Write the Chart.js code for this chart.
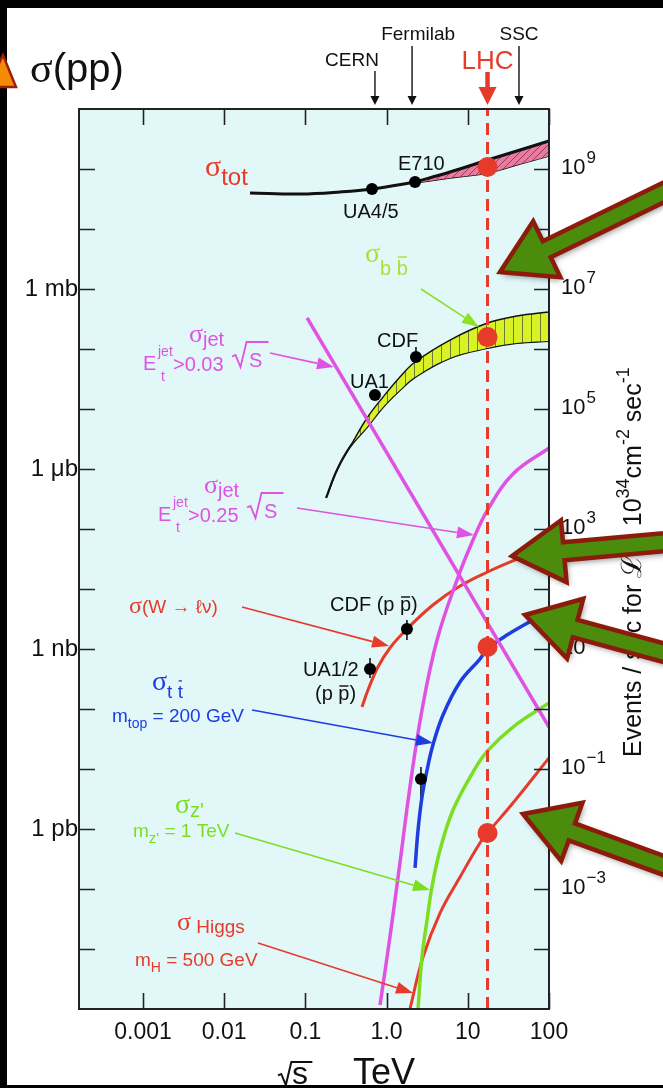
<!DOCTYPE html>
<html>
<head>
<meta charset="utf-8">
<script src="https://cdn.jsdelivr.net/npm/chart.js@4.4.1/dist/chart.umd.min.js"></script>
<style>
  html, body { margin: 0; padding: 0; background: #fff; }
  #wrap { position: relative; width: 663px; height: 1088px; }
</style>
</head>
<body>
<div id="wrap"><canvas id="c" width="663" height="1088"></canvas></div>
<script>
// sqrt(s) in TeV, rates in events / sec at L = 1e34 cm^-2 s^-1 (1 mb -> 1e7)
const totX = [0.0208, 0.0857, 0.267, 0.661, 2.24];
const totY = [3.98e8, 3.83e8, 4.14e8, 4.64e8, 6.07e8];
const totBandX = [2.24, 6.04, 17.5, 44.0, 100];
const totBandHi = [6.07e8, 8.91e8, 1.41e9, 2.07e9, 2.93e9];
const totBandLo = [5.84e8, 7.08e8, 8.58e8, 1.21e9, 1.65e9];

const bbX = [0.180, 0.245, 0.354, 0.574, 0.904, 1.46, 2.24, 6.04, 17.5, 40.4, 100];
const bbHi = [3.29e3, 9.62e3, 2.33e4, 7.08e4, 1.58e5, 3.42e5, 6.07e5, 1.41e6, 2.71e6, 3.55e6, 4.14e6];
const bbLo = [3.29e3, 9.62e3, 2.33e4, 5.01e4, 1.08e5, 2.07e5, 3.42e5, 7.08e5, 1.04e6, 1.26e6, 1.36e6];

const jet03X = [0.105, 100];
const jet03Y = [3.29e6, 0.50];

const jet25X = [0.830, 1.10, 1.46, 1.94, 2.73, 4.18, 7.36, 11.6, 17.5, 36.0, 100];
const jet25Y = [1.17e-5, 1.58e-4, 2.71e-3, 5.01e-2, 0.962, 14.1, 141, 656, 2.07e3, 8.26e3, 2.24e4];

const wX = [0.498, 0.590, 0.783, 1.10, 1.78, 3.72, 8.02, 17.5, 44.0, 100];
const wY = [1.08, 2.07, 5.01, 10.4, 21.5, 54.1, 112, 192, 329, 501];

const ttX = [2.24, 2.44, 2.73, 3.15, 3.72, 4.95, 8.02, 14.1, 17.5, 30.4, 63.5, 100];
const ttY = [2.24e-3, 9.62e-3, 3.42e-2, 9.62e-2, 0.251, 0.794, 2.82, 6.81, 10.0, 17.1, 30.4, 41.4];

const zX = [2.44, 2.73, 3.15, 3.62, 4.55, 6.58, 11.6, 17.5, 36.0, 100];
const zY = [1e-5, 7.36e-5, 3.04e-4, 1.08e-3, 4.47e-3, 2.07e-2, 8.91e-2, 0.200, 0.501, 1.26];

const higgsX = [1.94, 2.81, 4.55, 8.02, 14.1, 17.5, 36.0, 100];
const higgsY = [1e-5, 7.36e-5, 3.98e-4, 1.58e-3, 5.84e-3, 8.58e-3, 2.71e-2, 0.153];

// measured points: UA4/5, E710, UA1, CDF (bb), CDF (W), UA1/2 (W), top
const measX = [0.661, 2.24, 0.719, 2.30, 1.78, 0.625, 2.65];
const measY = [4.64e8, 6.07e8, 1.71e5, 7.36e5, 21.5, 4.64, 6.81e-2];
const measLo = [null, null, null, 7.36e5, 14.1, 3.29, 2.51e-2];
const measHi = [null, null, null, 1.08e6, 30.4, 7.08, 0.108];

// LHC energy and the rates marked on it
const lhcE = 17.5;
const lhcRates = [1.08e9, 1.58e6, 10.8, 8.58e-3];

const colliders = ['CERN', 'Fermilab', 'LHC', 'SSC'];
const colliderE = [0.719, 2.06, 17.5, 42.7];

const xTickVals = [0.001, 0.01, 0.1, 1, 10, 100];
const xTickLabels = ['0.001', '0.01', '0.1', '1.0', '10', '100'];
const sigmaTickVals = [1e7, 1e4, 10, 0.01];
const sigmaTickLabels = ['1 mb', '1 \u03bcb', '1 nb', '1 pb'];
const rateTickExps = [9, 7, 5, 3, 1, -1, -3];

const SANS = '"Liberation Sans", Arial, Helvetica, sans-serif';
const SERIF = '"Liberation Serif", "DejaVu Serif", serif';
const RED = '#e63b2b', MAGENTA = '#e052e2', BLUE = '#1d3de0', ZGREEN = '#7cde20';
const BBGREEN = '#8ee026', BBLABEL = '#a5e335', INK = '#111';

const canvas = document.getElementById('c');
const ctx0 = canvas.getContext('2d');

function pattern(w, h, bg, fg, draw) {
  const c = document.createElement('canvas');
  c.width = w; c.height = h;
  const g = c.getContext('2d');
  g.fillStyle = bg; g.fillRect(0, 0, w, h);
  g.strokeStyle = fg; g.lineWidth = 1;
  draw(g);
  return ctx0.createPattern(c, 'repeat');
}
const pinkHatch = pattern(7, 7, '#e87ba0', '#a03a5c', g => {
  g.beginPath(); g.moveTo(0, 7); g.lineTo(7, 0); g.stroke();
});
const yellowHatch = pattern(9, 4, '#d9f225', '#6f7a34', g => {
  g.beginPath(); g.moveTo(0.5, 0); g.lineTo(0.5, 4); g.stroke();
});

const pts = (xs, ys) => xs.map((x, i) => ({ x, y: ys[i] }));
const curve = (label, xs, ys, color, width, extra) => Object.assign({
  label, data: pts(xs, ys), showLine: true, borderColor: color, borderWidth: width,
  pointRadius: 0, tension: 0.4, fill: false, order: 3
}, extra || {});

// text with sub/superscripts; flags: s = serif, h = high overbar, l = low overbar
function rich(ctx, x, y, parts, color) {
  ctx.fillStyle = color; ctx.strokeStyle = color;
  ctx.textAlign = 'left'; ctx.textBaseline = 'alphabetic';
  let cx = x;
  for (const [t, size, dy = 0, flags = ''] of parts) {
    ctx.font = size + 'px ' + (flags.includes('s') ? SERIF : SANS);
    ctx.fillText(t, cx, y + dy);
    const w = ctx.measureText(t).width;
    if (flags.includes('h') || flags.includes('l')) {
      const by = y + dy - size * (flags.includes('h') ? 0.9 : 0.7);
      ctx.lineWidth = Math.max(1.2, size / 14);
      ctx.beginPath(); ctx.moveTo(cx + 1, by); ctx.lineTo(cx + w - 1, by); ctx.stroke();
    }
    cx += w;
  }
  return cx;
}

function radical(ctx, x, y, h, w, color, lw) {
  ctx.strokeStyle = color; ctx.lineWidth = lw; ctx.lineJoin = 'miter';
  ctx.beginPath();
  ctx.moveTo(x, y - h * 0.42);
  ctx.lineTo(x + h * 0.14, y - h * 0.48);
  ctx.lineTo(x + h * 0.34, y);
  ctx.lineTo(x + h * 0.58, y - h);
  ctx.lineTo(x + h * 0.58 + w, y - h);
  ctx.stroke();
}

function pointer(ctx, from, to, color) {
  const [x1, y1] = from, [x2, y2] = to;
  const a = Math.atan2(y2 - y1, x2 - x1);
  const hl = 17, hw = 6;
  const bx = x2 - hl * Math.cos(a), by = y2 - hl * Math.sin(a);
  ctx.strokeStyle = color; ctx.fillStyle = color; ctx.lineWidth = 1.6;
  ctx.beginPath(); ctx.moveTo(x1, y1); ctx.lineTo(bx, by); ctx.stroke();
  ctx.beginPath();
  ctx.moveTo(x2, y2);
  ctx.lineTo(bx - hw * Math.sin(a), by + hw * Math.cos(a));
  ctx.lineTo(bx + hw * Math.sin(a), by - hw * Math.cos(a));
  ctx.closePath(); ctx.fill();
}

function bigArrow(ctx, tip, tail) {
  const [tx, ty] = tip, [ex, ey] = tail;
  const ang = Math.atan2(ey - ty, ex - tx);
  const L = Math.hypot(ex - tx, ey - ty);
  const hl = 52, hw = 31, sw = 9;
  ctx.save();
  ctx.translate(tx, ty); ctx.rotate(ang);
  ctx.beginPath();
  ctx.moveTo(0, 0); ctx.lineTo(hl, -hw); ctx.lineTo(hl, -sw); ctx.lineTo(L, -sw);
  ctx.lineTo(L, sw); ctx.lineTo(hl, sw); ctx.lineTo(hl, hw); ctx.closePath();
  ctx.shadowColor = 'rgba(0,0,0,0.45)'; ctx.shadowBlur = 6; ctx.shadowOffsetX = 2; ctx.shadowOffsetY = 3;
  ctx.fillStyle = '#4b8c0c'; ctx.fill();
  ctx.shadowColor = 'transparent';
  ctx.lineJoin = 'miter'; ctx.lineWidth = 4.5; ctx.strokeStyle = '#8c1b0c'; ctx.stroke();
  ctx.restore();
}

// labels and pointer arrows in canvas pixels
const pointers = [
  { from: [421, 289], to: [479, 327], color: BBGREEN },
  { from: [270, 353], to: [334, 367], color: MAGENTA },
  { from: [297, 508], to: [474, 535], color: MAGENTA },
  { from: [242, 607], to: [389, 646], color: RED },
  { from: [252, 710], to: [433, 743], color: BLUE },
  { from: [235, 833], to: [430, 890], color: ZGREEN },
  { from: [258, 943], to: [413, 993], color: RED }
];
const notes = [
  { x: 205, y: 176, c: RED, p: [['\u03c3', 30, 0, 's'], ['tot', 24, 9]] },
  { x: 398, y: 170, c: INK, p: [['E710', 20]] },
  { x: 343, y: 218, c: INK, p: [['UA4/5', 20]] },
  { x: 365, y: 262, c: BBLABEL, p: [['\u03c3', 28, 0, 's'], ['b ', 20, 13], ['b', 20, 13, 'h']] },
  { x: 377, y: 347, c: INK, p: [['CDF', 20]] },
  { x: 350, y: 388, c: INK, p: [['UA1', 20]] },
  { x: 129, y: 613, c: RED, p: [['\u03c3', 24, 0, 's'], ['(W \u2192 \u2113\u03bd)', 19]] },
  { x: 330, y: 611, c: INK, p: [['CDF (p ', 20], ['p', 20, 0, 'l'], [')', 20]] },
  { x: 303, y: 676, c: INK, p: [['UA1/2', 20]] },
  { x: 315, y: 700, c: INK, p: [['(p ', 20], ['p', 20, 0, 'l'], [')', 20]] },
  { x: 152, y: 690, c: BLUE, p: [['\u03c3', 28, 0, 's'], ['t ', 19, 8], ['t', 19, 8, 'h']] },
  { x: 112, y: 722, c: BLUE, p: [['m', 19], ['top', 14, 6], [' = 200 GeV', 19]] },
  { x: 175, y: 813, c: ZGREEN, p: [['\u03c3', 28, 0, 's'], ["z'", 20, 4]] },
  { x: 133, y: 837, c: ZGREEN, p: [['m', 19], ["z'", 15, 6], [' = 1 TeV', 19]] },
  { x: 177, y: 930, c: RED, p: [['\u03c3', 26, 0, 's'], [' Higgs', 19, 3]] },
  { x: 135, y: 966, c: RED, p: [['m', 19], ['H', 14, 6], [' = 500 GeV', 19]] }
];
// jet threshold labels, second one sits 15 px right / 151 px lower
const jetLabels = [{ dx: 0, dy: 0, cut: '>0.03' }, { dx: 15, dy: 151, cut: '>0.25' }];

const deco = {
  id: 'deco',
  beforeDatasetsDraw(chart) {
    const { ctx, chartArea: a, scales: { x, y } } = chart;
    ctx.save();
    ctx.fillStyle = '#e2f8f8';
    ctx.fillRect(a.left, a.top, a.right - a.left, a.bottom - a.top);
    // error bars of the measured points
    ctx.strokeStyle = INK; ctx.lineWidth = 1.6;
    measX.forEach((mx, i) => {
      if (measLo[i] === null) return;
      const px = x.getPixelForValue(mx);
      ctx.beginPath();
      ctx.moveTo(px, y.getPixelForValue(measLo[i]));
      ctx.lineTo(px, y.getPixelForValue(measHi[i]));
      ctx.stroke();
    });
    ctx.restore();
  },
  afterDatasetsDraw(chart) {
    const { ctx, chartArea: a, scales: { x, y } } = chart;
    ctx.save();
    ctx.strokeStyle = '#222'; ctx.lineWidth = 1.6;
    ctx.beginPath();
    for (const v of xTickVals) {
      const px = Math.round(x.getPixelForValue(v)) + 0.5;
      ctx.moveTo(px, a.bottom); ctx.lineTo(px, a.bottom - 16);
      ctx.moveTo(px, a.top); ctx.lineTo(px, a.top + 16);
    }
    for (let e = -4; e <= 9; e++) {
      const py = Math.round(y.getPixelForValue(Math.pow(10, e))) + 0.5;
      ctx.moveTo(a.left, py); ctx.lineTo(a.left + 16, py);
      ctx.moveTo(a.right, py); ctx.lineTo(a.right - 15, py);
    }
    ctx.stroke();
    ctx.lineWidth = 2;
    ctx.strokeRect(a.left, a.top, a.right - a.left, a.bottom - a.top);
    ctx.restore();
  },
  afterDraw(chart) {
    const { ctx, chartArea: a, scales: { x, y } } = chart;
    ctx.save();

    // collider markers above the frame
    const cLayout = [
      { dx: -23, base: 66, y0: 71, size: 19, color: INK },
      { dx: 6, base: 40, y0: 46, size: 19, color: INK },
      { dx: 0, base: 69, y0: 72, size: 26, color: RED },
      { dx: 0, base: 40, y0: 46, size: 19, color: INK }
    ];
    colliders.forEach((name, i) => {
      const L = cLayout[i];
      const px = x.getPixelForValue(colliderE[i]);
      ctx.font = L.size + 'px ' + SANS;
      ctx.fillStyle = L.color; ctx.textAlign = 'center'; ctx.textBaseline = 'alphabetic';
      ctx.fillText(name, px + L.dx, L.base);
      ctx.strokeStyle = L.color; ctx.fillStyle = L.color;
      const big = name === 'LHC';
      const hh = big ? 18 : 9, hw = big ? 9 : 4.5;
      ctx.lineWidth = big ? 4.5 : 1.4;
      ctx.beginPath(); ctx.moveTo(px, L.y0); ctx.lineTo(px, a.top - 4 - hh + 2); ctx.stroke();
      ctx.beginPath();
      ctx.moveTo(px, a.top - 4); ctx.lineTo(px - hw, a.top - 4 - hh); ctx.lineTo(px + hw, a.top - 4 - hh);
      ctx.closePath(); ctx.fill();
    });

    // curve labels
    for (const p of pointers) pointer(ctx, p.from, p.to, p.color);
    for (const n of notes) rich(ctx, n.x, n.y, n.p, n.c);
    for (const j of jetLabels) {
      const ox = j.dx, oy = j.dy;
      rich(ctx, 189 + ox, 342 + oy, [['\u03c3', 26, 0, 's'], ['jet', 20, 4]], MAGENTA);
      rich(ctx, 143 + ox, 370 + oy, [['E', 20]], MAGENTA);
      rich(ctx, 158 + ox, 356 + oy, [['jet', 14]], MAGENTA);
      rich(ctx, 161 + ox, 381 + oy, [['t', 14]], MAGENTA);
      rich(ctx, 173 + ox, 371 + oy, [[j.cut, 20]], MAGENTA);
      radical(ctx, 232 + ox, 367 + oy, 25, 22, MAGENTA, 1.8);
      rich(ctx, 249 + ox, 367 + oy, [['S', 20]], MAGENTA);
    }

    // right axis: events / sec
    rateTickExps.forEach(e => {
      const py = y.getPixelForValue(Math.pow(10, e));
      const end = rich(ctx, 561, py + 5, [['10', 22]], INK);
      rich(ctx, end + 1, py - 6, [[String(e).replace('-', '\u2212'), 17]], INK);
    });
    ctx.save();
    ctx.translate(641, 757);
    ctx.rotate(-Math.PI / 2);
    rich(ctx, 0, 0, [['Events / sec for ', 25], ['\u2112', 28, 0, 's'], [' = 10', 25], ['34', 18, -12],
      ['cm', 25], ['-2', 18, -12], [' sec', 25], ['-1', 18, -12]], INK);
    ctx.restore();

    // x axis title
    radical(ctx, 278, 1085, 23, 21, INK, 2);
    rich(ctx, 292, 1084, [['s', 32]], INK);
    rich(ctx, 353, 1084, [['TeV', 36]], INK);

    // highlight arrows
    bigArrow(ctx, [500, 272], [720, 165]);
    bigArrow(ctx, [512, 556], [720, 537]);
    bigArrow(ctx, [525, 615], [720, 668]);
    bigArrow(ctx, [523, 814], [720, 886]);

    // page frame and heading
    ctx.fillStyle = '#000';
    ctx.fillRect(0, 0, 663, 8);
    ctx.fillRect(0, 0, 7, 1088);
    ctx.fillRect(0, 1085, 663, 3);
    ctx.beginPath();
    ctx.moveTo(-12, 87); ctx.lineTo(16, 87); ctx.lineTo(3, 55); ctx.closePath();
    ctx.fillStyle = '#f58a07'; ctx.fill();
    ctx.lineWidth = 2.5; ctx.strokeStyle = '#9c2008'; ctx.stroke();
    rich(ctx, 30, 82, [['\u03c3', 42, 0, 's'], ['(pp)', 40]], INK);
    ctx.restore();
  }
};

new Chart(canvas, {
  type: 'scatter',
  data: {
    datasets: [
      curve('jet Et>0.03 sqrt(s)', jet03X, jet03Y, MAGENTA, 3.5, { tension: 0 }),
      curve('jet Et>0.25 sqrt(s)', jet25X, jet25Y, MAGENTA, 3.5),
      curve('W -> l nu', wX, wY, RED, 3),
      curve('t tbar', ttX, ttY, BLUE, 3.5),
      curve("Z'", zX, zY, ZGREEN, 3.5),
      curve('Higgs', higgsX, higgsY, RED, 3),
      curve('sigma tot', totX, totY, '#111', 3),
      curve('sigma tot band', totBandX, totBandHi, '#111', 3, { fill: '+1', backgroundColor: pinkHatch }),
      curve('sigma tot band low', totBandX, totBandLo, '#111', 1.4),
      curve('b bbar band', bbX, bbHi, '#111', 1.4, { fill: '+1', backgroundColor: yellowHatch }),
      curve('b bbar low', bbX, bbLo, '#111', 2.2),
      {
        label: 'LHC', data: [{ x: lhcE, y: 1e-5 }, { x: lhcE, y: 1e10 }], showLine: true,
        borderColor: RED, borderWidth: 3, borderDash: [12, 7], pointRadius: 0, order: 1
      },
      {
        label: 'data', data: pts(measX, measY), showLine: false, pointRadius: 6,
        backgroundColor: '#000', borderWidth: 0, order: 0
      },
      {
        label: 'LHC rates', data: lhcRates.map(r => ({ x: lhcE, y: r })), showLine: false,
        pointRadius: 10, backgroundColor: RED, borderWidth: 0, order: 0
      }
    ]
  },
  options: {
    responsive: false,
    animation: false,
    devicePixelRatio: 1,
    layout: { padding: { top: 109, left: 0, right: 0, bottom: 0 } },
    plugins: { legend: { display: false }, tooltip: { enabled: false } },
    scales: {
      x: {
        type: 'logarithmic', position: 'bottom', min: 1.63e-4, max: 100,
        grid: { display: false, drawTicks: false }, border: { display: false },
        afterFit: s => { s.height = 79; },
        afterBuildTicks: s => { s.ticks = xTickVals.map(v => ({ value: v })); },
        ticks: {
          autoSkip: false, maxRotation: 0, padding: 10, color: INK,
          font: { size: 23, family: SANS },
          callback: (v, i) => xTickLabels[i]
        }
      },
      y: {
        type: 'logarithmic', position: 'left', min: 1e-5, max: 1e10,
        grid: { display: false, drawTicks: false }, border: { display: false },
        afterFit: s => { s.width = 79; },
        afterBuildTicks: s => { s.ticks = sigmaTickVals.map(v => ({ value: v })); },
        ticks: {
          autoSkip: false, padding: 1, color: INK,
          font: { size: 24, family: SANS },
          callback: (v, i) => sigmaTickLabels[i]
        }
      },
      y2: {
        type: 'logarithmic', position: 'right', min: 1e-5, max: 1e10,
        grid: { display: false, drawTicks: false }, border: { display: false },
        afterFit: s => { s.width = 114; },
        ticks: { display: false }
      }
    }
  },
  plugins: [deco]
});
</script>
</body>
</html>
